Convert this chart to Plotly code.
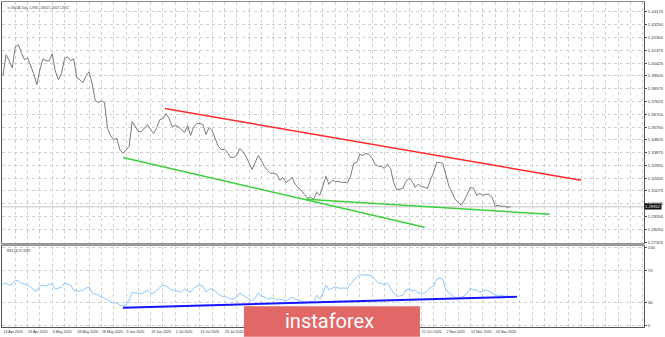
import plotly.graph_objects as go

# ---------------- data ----------------
close = [1.39507, 1.41039, 1.40601, 1.40090, 1.41622, 1.41768, 1.41184, 1.40674, 1.40820, 1.40236,
         1.39653, 1.38850, 1.39944, 1.40747, 1.40601, 1.40601, 1.41112, 1.39872, 1.39215, 1.39653,
         1.40747, 1.40893, 1.40601, 1.40747, 1.39361, 1.39215, 1.38996, 1.39507, 1.39799, 1.38923,
         1.37683, 1.37537, 1.37683, 1.37537, 1.35641, 1.35130, 1.34839, 1.34912, 1.34109, 1.33818,
         1.34109, 1.34328, 1.36152, 1.35787, 1.35422, 1.35422, 1.35714, 1.35933, 1.35568, 1.35276,
         1.35714, 1.36297, 1.36370, 1.36735, 1.36370, 1.35787, 1.35860, 1.35787, 1.35568, 1.35349,
         1.35860, 1.35130, 1.35787, 1.36006, 1.36006, 1.35933, 1.35203, 1.35714, 1.35495, 1.34912,
         1.34328, 1.34109, 1.34109, 1.33890, 1.33526, 1.33526, 1.33672, 1.34182, 1.33963, 1.33599,
         1.33088, 1.32650, 1.33161, 1.33672, 1.33307, 1.32869, 1.32578, 1.32359, 1.32359, 1.32286,
         1.31848, 1.32067, 1.31702, 1.31848, 1.32067, 1.31556, 1.31338, 1.31119, 1.30827, 1.30535,
         1.30608, 1.30462, 1.30973, 1.30754, 1.31410, 1.32140, 1.31556, 1.31848, 1.31775, 1.31775,
         1.31702, 1.31702, 1.31702, 1.32140, 1.33088, 1.33161, 1.33745, 1.33672, 1.33818, 1.33745,
         1.33453, 1.33015, 1.32869, 1.32869, 1.32723, 1.33015, 1.32723, 1.31702, 1.31192, 1.31192,
         1.31265, 1.31775, 1.31994, 1.31775, 1.31338, 1.31556, 1.31410, 1.31338, 1.31265, 1.31921,
         1.32432, 1.33161, 1.33161, 1.33088, 1.32213, 1.31410, 1.30973, 1.30462, 1.30243, 1.30025,
         1.30389, 1.30900, 1.31338, 1.31265, 1.30754, 1.30900, 1.30754, 1.30827, 1.30827, 1.30608,
         1.29952, 1.30025, 1.29952, 1.29952, 1.29879, 1.29912]

rsi = [53.2, 54.4, 51.9, 53.2, 58.2, 57.0, 54.4, 53.2, 51.9, 49.4,
       45.6, 44.3, 50.6, 51.9, 50.6, 53.2, 53.2, 46.8, 48.1, 49.4,
       54.4, 53.2, 51.9, 45.6, 44.3, 44.3, 45.6, 48.1, 49.4, 41.8,
       40.5, 39.2, 36.7, 35.4, 32.9, 30.4, 29.1, 29.1, 26.6, 25.3,
       26.6, 32.9, 43.0, 41.8, 41.8, 40.5, 43.0, 45.6, 41.8, 41.8,
       45.6, 49.4, 51.9, 50.6, 48.1, 45.6, 44.3, 44.3, 43.0, 46.8,
       44.3, 43.0, 48.1, 50.6, 51.9, 50.6, 43.0, 46.8, 46.8, 44.3,
       40.5, 38.0, 36.7, 36.7, 34.2, 34.2, 36.7, 41.8, 39.2, 36.7,
       34.2, 31.6, 35.4, 41.8, 38.0, 36.7, 34.2, 35.4, 35.4, 32.9,
       34.2, 32.9, 31.6, 34.2, 36.7, 34.2, 32.9, 31.6, 30.4, 30.4,
       30.4, 30.4, 39.2, 34.2, 41.8, 51.9, 45.6, 48.1, 49.4, 48.1,
       48.1, 48.1, 48.1, 53.2, 58.2, 62.0, 65.8, 64.6, 64.6, 64.6,
       63.3, 59.5, 54.4, 54.4, 51.9, 54.4, 48.1, 41.8, 38.0, 38.0,
       39.2, 45.6, 46.8, 44.3, 45.6, 41.8, 41.8, 41.8, 44.3, 49.4,
       50.6, 59.5, 60.8, 59.5, 45.6, 41.8, 39.2, 35.4, 35.4, 36.7,
       38.0, 43.0, 48.1, 45.6, 45.6, 43.0, 44.3, 45.6, 44.3, 41.8,
       39.2, 38.0, 39.2, 38.0, 38.0, 37.43]

bars = list(range(len(close)))

date_ticks = [0, 8, 16, 24, 32, 40, 48, 56, 64, 72, 80, 88, 96, 104, 112, 120, 128, 136, 144, 152, 160]
date_labels = ["14 Apr 2020", "24 Apr 2020", "6 May 2020", "18 May 2020", "28 May 2020", "9 Jun 2020",
               "19 Jun 2020", "1 Jul 2020", "13 Jul 2020", "23 Jul 2020", "4 Aug 2020", "14 Aug 2020",
               "26 Aug 2020", "7 Sep 2020", "17 Sep 2020", "29 Sep 2020", "9 Oct 2020", "21 Oct 2020",
               "2 Nov 2020", "12 Nov 2020", "24 Nov 2020"]

price_ticks = [1.44175, 1.43250, 1.42300, 1.41375, 1.40425, 1.39500, 1.38575, 1.37625, 1.36700,
               1.35750, 1.34825, 1.33875, 1.32950, 1.32000, 1.31075, 1.30125, 1.29200, 1.28250, 1.27325]
rsi_ticks = [0, 30, 70, 100]

red_x, red_y = [52.6, 188.0], [1.37100, 1.31848]
green1_x, green1_y = [39.0, 137.1], [1.33526, 1.28420]
green2_x, green2_y = [98.4, 177.7], [1.30462, 1.29368]
blue_x, blue_y = [39.0, 167.1], [23.2, 37.1]

header = "USDCAD,Daily  1.29962 1.30032 1.29413 1.29912"
rsi_header = "RSI(14) 37.4339"
last_price = close[-1]

# ---------------- figure ----------------
fig = go.Figure()
fig.add_trace(go.Scatter(x=bars, y=close, mode="lines", line=dict(color="#7a7a7a", width=1),
                         xaxis="x", yaxis="y", hoverinfo="skip"))
fig.add_trace(go.Scatter(x=red_x, y=red_y, mode="lines", line=dict(color="#ff2a2a", width=1.5),
                         xaxis="x", yaxis="y"))
fig.add_trace(go.Scatter(x=green1_x, y=green1_y, mode="lines", line=dict(color="#3ad13a", width=1.5),
                         xaxis="x", yaxis="y"))
fig.add_trace(go.Scatter(x=green2_x, y=green2_y, mode="lines", line=dict(color="#3ad13a", width=1.5),
                         xaxis="x", yaxis="y"))
fig.add_trace(go.Scatter(x=bars, y=rsi, mode="lines", line=dict(color="#8cc8ff", width=1),
                         xaxis="x2", yaxis="y2"))
fig.add_trace(go.Scatter(x=blue_x, y=blue_y, mode="lines", line=dict(color="#1414ff", width=2),
                         xaxis="x2", yaxis="y2"))

xr = [-0.32, 208.4]
grid = dict(showgrid=True, gridcolor="#cfcfcf", griddash="dot", gridwidth=1)
ytickfont = dict(family="Liberation Sans, Arial", size=4.2, color="#333333")
xtickfont = dict(family="Liberation Sans, Arial", size=3.6, color="#333333")

fig.update_layout(
    width=665, height=337,
    margin=dict(l=1, r=17, t=1, b=10),
    paper_bgcolor="white", plot_bgcolor="white",
    showlegend=False,
    xaxis=dict(domain=[0, 1], anchor="y", range=xr, tickvals=date_ticks, showticklabels=False,
               ticks="", zeroline=False, showline=True, linecolor="#8a8a8a", mirror=True,
               minor=dict(dtick=4, tick0=0, showgrid=True, gridcolor="#cfcfcf", griddash="dot"),
               **grid),
    yaxis=dict(domain=[0.258, 1], anchor="x", range=[1.27252, 1.44904], side="right",
               tickvals=price_ticks, ticktext=[f"{v:.5f}" for v in price_ticks],
               tickfont=ytickfont, ticks="outside", ticklen=2, tickcolor="#555555",
               zeroline=False, showline=True, linecolor="#555555", mirror=True, **grid),
    xaxis2=dict(domain=[0, 1], anchor="y2", range=xr, tickvals=date_ticks, ticktext=date_labels,
                tickfont=xtickfont, ticks="", ticklabelposition="outside right", tickangle=0,
                ticklabelstandoff=1,
                zeroline=False, showline=True, linecolor="#555555", mirror=True,
                minor=dict(dtick=4, tick0=0, showgrid=True, gridcolor="#cfcfcf", griddash="dot"),
                **grid),
    yaxis2=dict(domain=[0, 0.249], anchor="x2", range=[-1.3, 101.5], side="right",
                tickvals=rsi_ticks, ticktext=[str(v) for v in rsi_ticks],
                tickfont=ytickfont, ticks="outside", ticklen=2, tickcolor="#555555",
                zeroline=False, showline=True, linecolor="#555555", mirror=True, **grid),
)

# separator between panels
fig.add_shape(type="rect", xref="paper", yref="paper", x0=0, x1=1.0, y0=0.249, y1=0.258,
              fillcolor="#9a9a9a", line=dict(width=0), layer="above")
# current price line
fig.add_shape(type="line", xref="paper", yref="y", x0=0, x1=1, y0=last_price, y1=last_price,
              line=dict(color="#c4c4c4", width=1), layer="below")
# instaforex logo box
fig.add_shape(type="rect", xref="paper", yref="paper", x0=0.377, x1=0.651, y0=-0.03, y1=0.064,
              fillcolor="#e26868", line=dict(width=0), layer="above")

fig.add_annotation(xref="paper", yref="paper", x=0.51, y=0.017, text="instaforex", showarrow=False,
                   font=dict(family="Roboto", size=20, color="white"), xanchor="center", yanchor="middle")
fig.add_annotation(xref="paper", yref="y", x=1.0, y=last_price, text=f"{last_price:.5f}",
                   showarrow=False, xanchor="left", yanchor="middle", bgcolor="#111111",
                   font=dict(family="Liberation Sans, Arial", size=4.2, color="white"), borderpad=0)
fig.add_annotation(xref="paper", yref="paper", x=0.004, y=0.995, text="▼ " + header, showarrow=False,
                   xanchor="left", yanchor="top",
                   font=dict(family="Liberation Sans, Arial", size=2.6, color="#333333"))
fig.add_annotation(xref="paper", yref="paper", x=0.004, y=0.245, text=rsi_header, showarrow=False,
                   xanchor="left", yanchor="top",
                   font=dict(family="Liberation Sans, Arial", size=3.2, color="#333333"))

fig.write_html("out.html")
